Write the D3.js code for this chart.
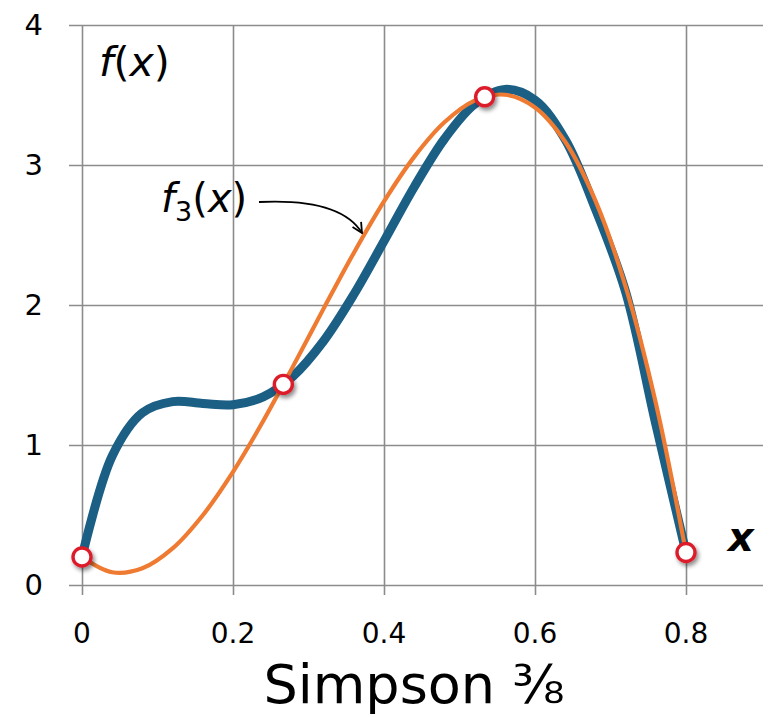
<!DOCTYPE html>
<html>
<head>
<meta charset="utf-8">
<script src="https://cdn.jsdelivr.net/npm/d3@7"></script>
<style>
  html, body { margin: 0; padding: 0; background: #fff; }
  svg { display: block; }
  text { font-family: "DejaVu Sans", "Noto Sans", sans-serif; fill: #000; }
</style>
</head>
<body>
<svg id="chart" width="770" height="717"></svg>
<script>
// ---- data ----
const xSamples = [0, 0.04, 0.08, 0.12, 0.16, 0.20, 0.24, 0.28, 0.32, 0.36, 0.40,
                  0.44, 0.48, 0.52, 0.56, 0.60, 0.64, 0.68, 0.72, 0.76, 0.80];
const fValues = [0.200, 0.921, 1.230, 1.310, 1.297, 1.288, 1.344, 1.494, 1.743, 2.075, 2.456,
                 2.843, 3.186, 3.434, 3.540, 3.464, 3.182, 2.687, 2.094, 1.150, 0.232];
const f3Values = [0.200, 0.091, 0.119, 0.261, 0.498, 0.808, 1.171, 1.567, 1.974, 2.372, 2.740,
                  3.058, 3.305, 3.460, 3.502, 3.411, 3.166, 2.746, 2.131, 1.300, 0.232];
const nodeX = [0, 0.26667, 0.53333, 0.8];
const nodeY = [0.200, 1.433, 3.487, 0.232];
const xTicks = [0, 0.2, 0.4, 0.6, 0.8];
const xTickLabels = ["0", "0.2", "0.4", "0.6", "0.8"];
const yTicks = [0, 1, 2, 3, 4];
const yTickLabels = ["0", "1", "2", "3", "4"];
const title = "Simpson \u215C";

// ---- scales ----
const svg = d3.select("#chart");
const x = d3.scaleLinear().domain([0, 0.9]).range([82, 761.5]);
const y = d3.scaleLinear().domain([0, 4]).range([585, 25]);

// shadow filter
const defs = svg.append("defs");
const flt = defs.append("filter").attr("id", "shadow").attr("x", "-50%").attr("y", "-50%").attr("width", "200%").attr("height", "200%");
flt.append("feDropShadow").attr("dx", 2).attr("dy", 3).attr("stdDeviation", 2).attr("flood-color", "#000").attr("flood-opacity", 0.45);
defs.append("marker").attr("id", "arrow").attr("viewBox", "0 0 12 12").attr("refX", 11).attr("refY", 6)
  .attr("markerWidth", 12).attr("markerHeight", 12).attr("markerUnits", "userSpaceOnUse").attr("orient", "auto")
  .append("path").attr("d", "M1,1 L11,6 L1,11").attr("fill", "none").attr("stroke", "#000").attr("stroke-width", 1.8);

// gridlines via axes
const gx = svg.append("g").attr("transform", `translate(0,${y(0) + 10})`)
  .call(d3.axisBottom(x).tickValues(xTicks).tickSize(-(y(0) + 10 - y(4))).tickFormat(""));
gx.select(".domain").remove();
gx.selectAll("line").attr("stroke", "#8c8c8c").attr("stroke-width", 1.6);

const gy = svg.append("g").attr("transform", `translate(69,0)`)
  .call(d3.axisLeft(y).tickValues(yTicks).tickSize(-(763 - 69)).tickFormat(""));
gy.select(".domain").remove();
gy.selectAll("line").attr("stroke", "#8c8c8c").attr("stroke-width", 1.6);

// tick labels
svg.append("g").selectAll("text").data(xTicks).join("text")
  .attr("x", d => x(d)).attr("y", 643).attr("text-anchor", "middle")
  .attr("font-size", 28).text((d, i) => xTickLabels[i]);
svg.append("g").selectAll("text").data(yTicks).join("text")
  .attr("x", 43).attr("y", d => y(d) + 10).attr("text-anchor", "end")
  .attr("font-size", 29).text((d, i) => yTickLabels[i]);

// curves
const line = d3.line().x(d => x(d[0])).y(d => y(d[1])).curve(d3.curveCatmullRom.alpha(0.5));
svg.append("path").datum(xSamples.map((v, i) => [v, fValues[i]]))
  .attr("d", line).attr("fill", "none").attr("stroke", "#1b5f85").attr("stroke-width", 9).attr("stroke-linecap", "round");
svg.append("path").datum(xSamples.map((v, i) => [v, f3Values[i]]))
  .attr("d", line).attr("fill", "none").attr("stroke", "#ee7b31").attr("stroke-width", 4.2);

// nodes
svg.append("g").selectAll("circle").data(nodeX).join("circle")
  .attr("cx", d => x(d)).attr("cy", (d, i) => y(nodeY[i])).attr("r", 9)
  .attr("fill", "#fff").attr("stroke", "#dc1f2b").attr("stroke-width", 3.4)
  .attr("filter", "url(#shadow)");

// labels
const fx = svg.append("text").attr("x", 99).attr("y", 76).attr("font-size", 41).attr("font-style", "italic");
fx.append("tspan").text("f");
fx.append("tspan").attr("font-style", "normal").text("(");
fx.append("tspan").text("x");
fx.append("tspan").attr("font-style", "normal").text(")");

const f3 = svg.append("text").attr("x", 161).attr("y", 212).attr("font-size", 40).attr("font-style", "italic");
f3.append("tspan").text("f");
f3.append("tspan").attr("font-style", "normal").attr("font-size", 27).attr("dy", 9).text("3");
f3.append("tspan").attr("font-style", "normal").attr("dy", -9).text("(");
f3.append("tspan").text("x");
f3.append("tspan").attr("font-style", "normal").text(")");

svg.append("path").attr("d", "M259,202 C300,200 345,205 362,233")
  .attr("fill", "none").attr("stroke", "#000").attr("stroke-width", 1.8).attr("marker-end", "url(#arrow)");

svg.append("text").attr("x", 728).attr("y", 551).attr("font-size", 40).attr("font-style", "italic")
  .attr("font-weight", "bold").text("x");

svg.append("text").attr("x", 414).attr("y", 703).attr("text-anchor", "middle").attr("font-size", 54).text(title);
</script>
</body>
</html>
